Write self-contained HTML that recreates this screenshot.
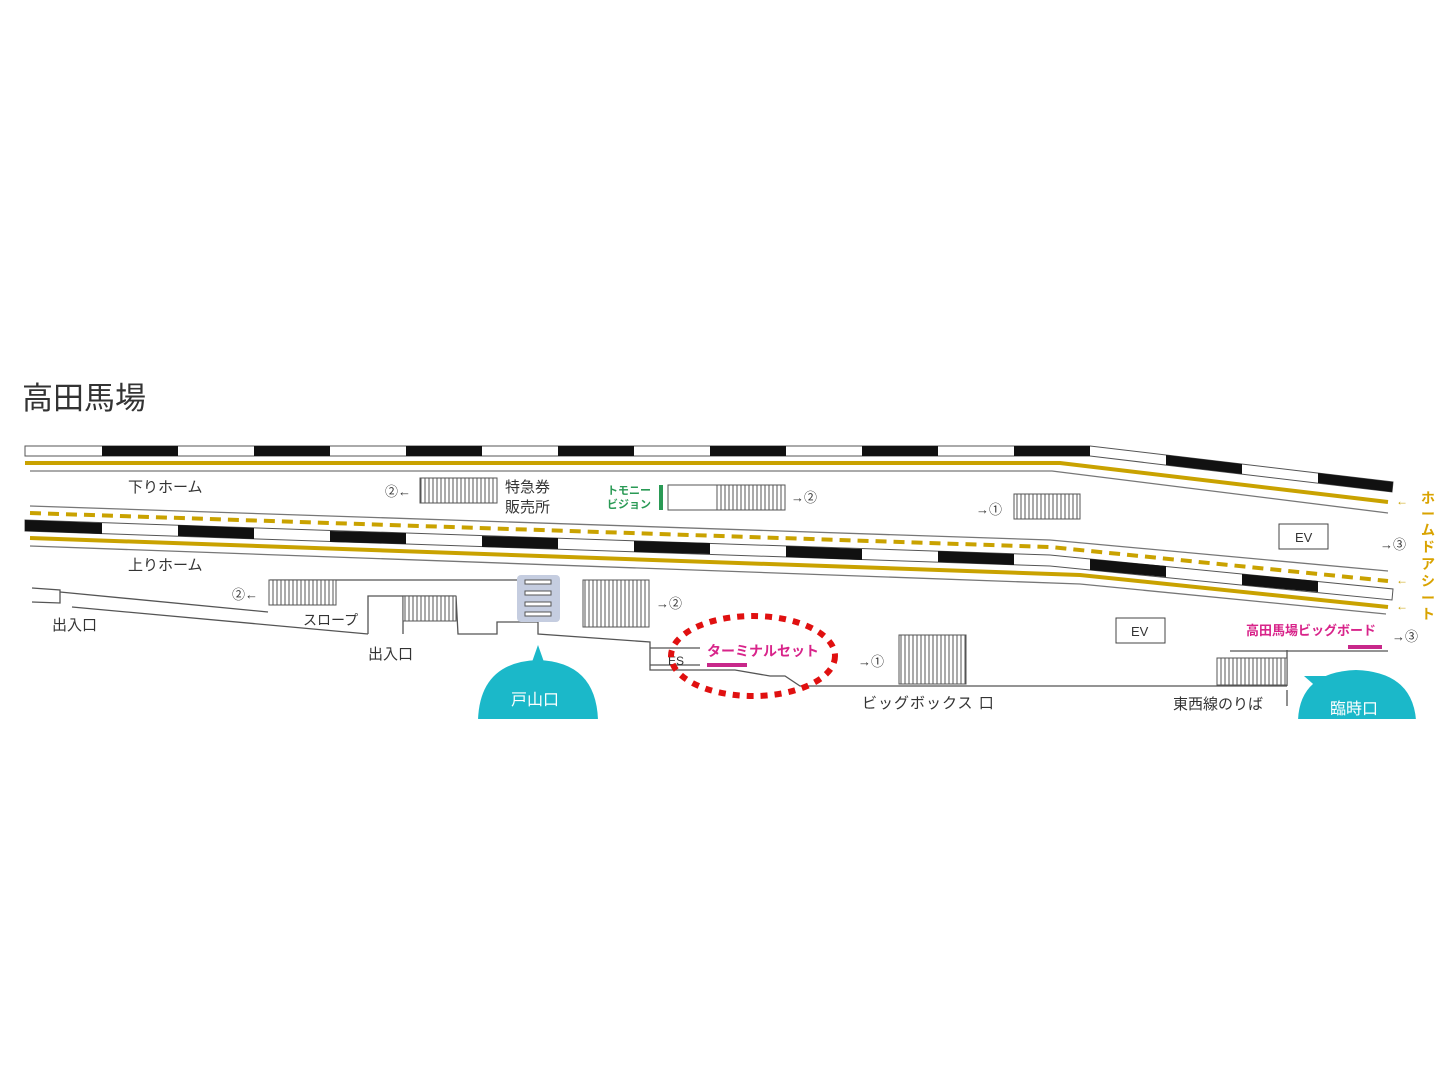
<!DOCTYPE html>
<html><head><meta charset="utf-8"><style>
html,body{margin:0;padding:0;background:#fff;width:1445px;height:1084px;overflow:hidden}
svg{display:block}
text{font-family:"Liberation Sans","Noto Sans CJK JP",sans-serif;fill:#333}
</style></head><body>
<svg width="1445" height="1084" viewBox="0 0 1445 1084">
<defs>
<pattern id="st" width="4" height="10" patternUnits="userSpaceOnUse"><rect width="4" height="10" fill="#fff"/><line x1="1" y1="0" x2="1" y2="10" stroke="#555" stroke-width="1"/></pattern>
</defs>
<text x="22" y="409" font-size="31" fill="#222">高田馬場</text>

<!-- top track -->
<polygon points="25,446 1090,446 1393,482 1392,492 1090,456 25,456" fill="#fff" stroke="#555" stroke-width="1"/>
<g fill="#111">
<rect x="102" y="446" width="76" height="10"/><rect x="254" y="446" width="76" height="10"/><rect x="406" y="446" width="76" height="10"/><rect x="558" y="446" width="76" height="10"/><rect x="710" y="446" width="76" height="10"/><rect x="862" y="446" width="76" height="10"/><rect x="1014" y="446" width="76" height="10"/>
<polygon points="1166,455 1242,464 1242,474 1166,465"/><polygon points="1318,473 1393,482 1392,492 1318,483"/>
</g>
<polyline points="25,463 1060,463 1388,502" fill="none" stroke="#c9a200" stroke-width="4"/>
<polyline points="30,471 1052,471 1388,513" fill="none" stroke="#777" stroke-width="1.3"/>

<!-- middle -->
<polyline points="30,506 1050,540 1388,571" fill="none" stroke="#777" stroke-width="1.3"/>
<polyline points="30,513 1050,547 1388,581" fill="none" stroke="#c9a200" stroke-width="4" stroke-dasharray="11,7"/>
<polygon points="25,520 1050,555 1393,589 1392,600 1050,566 25,531" fill="#fff" stroke="#555" stroke-width="1"/>
<g fill="#111">
<polygon points="25,520 102,523 102,534 25,531"/><polygon points="178,525 254,528 254,539 178,536"/><polygon points="330,531 406,533 406,544 330,542"/><polygon points="482,536 558,538 558,549 482,547"/><polygon points="634,541 710,543 710,554 634,552"/><polygon points="786,546 862,549 862,560 786,557"/><polygon points="938,551 1014,554 1014,565 938,562"/><polygon points="1090,559 1166,566 1166,577 1090,570"/><polygon points="1242,574 1318,581 1318,592 1242,585"/>
</g>
<polyline points="30,538 1080,575 1388,607" fill="none" stroke="#c9a200" stroke-width="4"/>
<polyline points="30,546 1080,584 1386,614" fill="none" stroke="#777" stroke-width="1.3"/>

<text x="128" y="492" font-size="15">下りホーム</text>
<text x="128" y="570" font-size="15">上りホーム</text>
<text x="385" y="496" font-size="13">②←</text>
<rect x="420" y="478" width="77" height="25" fill="url(#st)" stroke="#555"/>
<text x="505" y="492" font-size="15">特急券</text>
<text x="505" y="512" font-size="15">販売所</text>
<text x="607" y="494" font-size="11" font-weight="bold" style="fill:#2a9a55">トモニー</text>
<text x="607" y="508" font-size="11" font-weight="bold" style="fill:#2a9a55">ビジョン</text>
<rect x="659" y="485" width="4" height="25" fill="#2a9a55"/>
<rect x="668" y="485" width="117" height="25" fill="#fff" stroke="#555"/>
<rect x="717" y="485" width="68" height="25" fill="url(#st)" stroke="#555"/>
<text x="791" y="502" font-size="13">→②</text>
<text x="976" y="514" font-size="13">→①</text>
<rect x="1014" y="494" width="66" height="25" fill="url(#st)" stroke="#555"/>
<rect x="1279" y="524" width="49" height="25" fill="#fff" stroke="#444"/>
<text x="1295" y="542" font-size="13">EV</text>
<text x="1380" y="549" font-size="13">→③</text>
<g font-size="12">
<text x="1396" y="505" style="fill:#c9a200">←</text><text x="1396" y="584" style="fill:#c9a200">←</text><text x="1396" y="610" style="fill:#c9a200">←</text>
</g>
<g font-size="14" font-weight="bold">
<text x="1421" y="503" style="fill:#d9a300">ホ</text><text x="1421" y="519" style="fill:#d9a300">ー</text><text x="1421" y="535" style="fill:#d9a300">ム</text><text x="1421" y="552" style="fill:#d9a300">ド</text><text x="1421" y="569" style="fill:#d9a300">ア</text><text x="1421" y="586" style="fill:#d9a300">シ</text><text x="1421" y="603" style="fill:#d9a300">ー</text><text x="1421" y="619" style="fill:#d9a300">ト</text>
</g>

<!-- concourse -->
<g fill="none" stroke="#555" stroke-width="1.3">
<polyline points="32,588 60,590 60,603 32,602"/>
<line x1="60" y1="592" x2="268" y2="612"/>
<line x1="72" y1="607" x2="368" y2="634"/>
<polyline points="368,634 368,596 456,596"/>
<line x1="403" y1="596" x2="403" y2="634"/>
<polyline points="456,596 458,634 497,634 497,622 538,622 538,634 650,642 650,670 735,670 770,676 785,676 800,686 1287,686"/>
<polyline points="270,580 540,580"/>
<line x1="650" y1="648" x2="700" y2="648"/>
<line x1="650" y1="665" x2="700" y2="665"/>
<line x1="1287" y1="650" x2="1287" y2="686"/>
<line x1="1230" y1="651" x2="1388" y2="651"/>
<line x1="1287" y1="690" x2="1287" y2="706"/>
</g>
<text x="232" y="599" font-size="13">②←</text>
<rect x="269" y="580" width="67" height="25" fill="url(#st)" stroke="#555"/>
<rect x="403" y="596" width="53" height="25" fill="url(#st)" stroke="#555"/>
<text x="303" y="625" font-size="14">スロープ</text>
<text x="52" y="630" font-size="15">出入口</text>
<text x="368" y="659" font-size="15">出入口</text>
<rect x="517" y="575" width="43" height="47" rx="4" fill="#c5cde0"/>
<g fill="#fff" stroke="#555"><rect x="525" y="580" width="26" height="4"/><rect x="525" y="591" width="26" height="4"/><rect x="525" y="602" width="26" height="4"/><rect x="525" y="612" width="26" height="4"/></g>
<rect x="583" y="580" width="66" height="47" fill="url(#st)" stroke="#555"/>
<text x="656" y="608" font-size="13">→②</text>
<text x="668" y="665" font-size="12">ES</text>
<text x="707" y="656" font-size="14" font-weight="bold" style="fill:#d8248a">ターミナルセット</text>
<rect x="707" y="663" width="40" height="4" fill="#c8288a"/>
<ellipse cx="753" cy="656" rx="82" ry="40" fill="none" stroke="#e01010" stroke-width="6" stroke-dasharray="7,7"/>
<text x="858" y="666" font-size="13">→①</text>
<rect x="899" y="635" width="67" height="49" fill="url(#st)" stroke="#555"/>
<text x="862" y="708" font-size="15" letter-spacing="1">ビッグボックス 口</text>
<rect x="1116" y="618" width="49" height="25" fill="#fff" stroke="#444"/>
<text x="1131" y="636" font-size="13">EV</text>
<text x="1246" y="635" font-size="13" font-weight="bold" style="fill:#d8248a">高田馬場ビッグボード</text>
<rect x="1348" y="645" width="34" height="4" fill="#c8288a"/>
<text x="1392" y="641" font-size="13">→③</text>
<rect x="1217" y="658" width="70" height="27" fill="url(#st)" stroke="#555"/>
<text x="1173" y="709" font-size="15">東西線のりば</text>

<!-- exits -->
<path d="M478,720 Q480,662 538,660 Q596,662 598,720 Z" fill="#1bb8c9"/>
<polygon points="532,662 538,645 544,662" fill="#1bb8c9"/>
<text x="511" y="705" font-size="16" style="fill:#fff">戸山口</text>
<path d="M1298,720 Q1300,672 1356,670 Q1412,672 1416,720 Z" fill="#1bb8c9"/>
<polygon points="1304,676 1320,690 1330,676" fill="#1bb8c9"/>
<text x="1330" y="714" font-size="16" style="fill:#fff">臨時口</text>
<rect x="0" y="719" width="1445" height="365" fill="#fff"/>
</svg>
</body></html>
